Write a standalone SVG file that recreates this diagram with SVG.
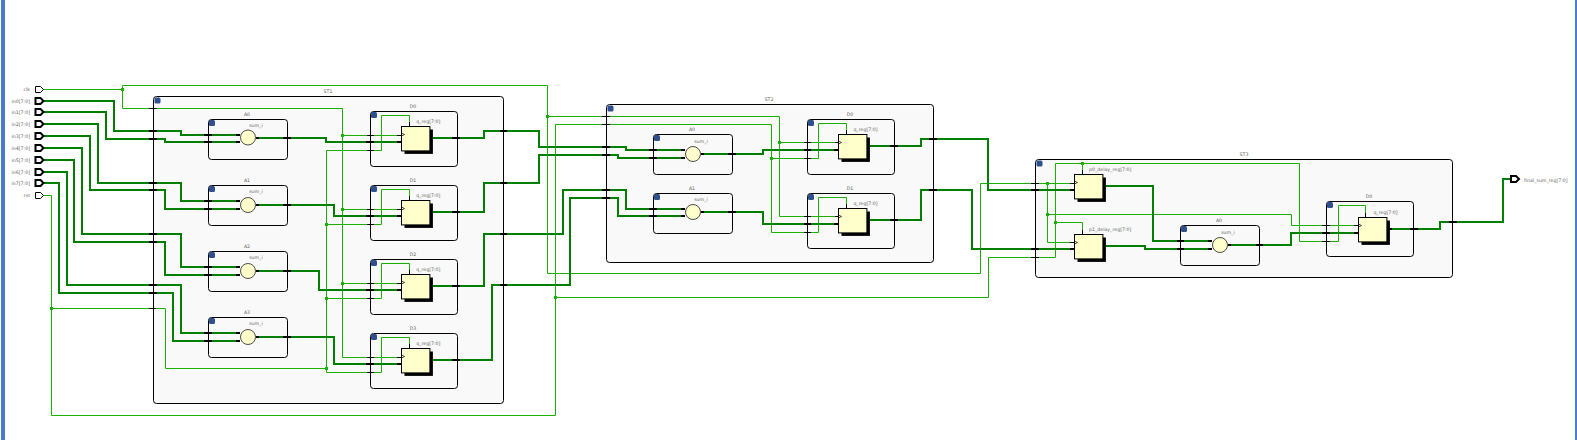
<svg xmlns="http://www.w3.org/2000/svg" width="1577" height="440" viewBox="0 0 1577 440">
<defs>
<style>
.bg{fill:#fff}
.bar{fill:#4a7bd0}
.c{fill:#f9f9f9;stroke:#000;stroke-width:1}
.cell{fill:none;stroke:#000;stroke-width:1}
.ff{fill:#ffffcc;stroke:#000;stroke-width:1}
.sh{fill:#000}
.add{fill:#ffffcc;stroke:#222;stroke-width:.8}
.blue{fill:#2f4f8f}
text{font-family:"DejaVu Sans",sans-serif;font-size:4.7px;fill:#666}
.m{text-anchor:middle}
.e{text-anchor:end}
.t{fill:none;stroke:#19b000;stroke-width:1}
.w{fill:none;stroke:#008000;stroke-width:2}
.k1{fill:none;stroke:#000;stroke-width:1}
.k2{fill:none;stroke:#000;stroke-width:2}
.j{fill:#19b000}
.port{fill:#fff;stroke:#000;stroke-width:1}
.port2{fill:#fff;stroke:#000;stroke-width:2}
</style>
<symbol id="ffs" overflow="visible"><rect class="sh" x="3" y="3" width="28.4" height="24.4"/><rect class="ff" x="0" y="0" width="28.4" height="24.4"/><path d="M0 6.500l3 1.500-3 1.500" fill="none" stroke="#000" stroke-width=".7"/></symbol>
</defs>
<rect class="bg" width="1577" height="440"/>
<rect class="bar" x="1" y="0" width="4" height="440"/>
<rect class="bar" x="1575" y="0" width="2" height="440"/>
<g id="ST1"><rect class="c" x="153.500" y="96.500" width="350" height="307" rx="3"/><rect class="blue" x="154.500" y="97.500" width="6" height="6" rx="1.500"/><text class="m" x="328" y="93">ST1</text></g>
<g id="ST2"><rect class="c" x="606.500" y="104.500" width="327" height="158" rx="3"/><rect class="blue" x="607.500" y="105.500" width="6" height="6" rx="1.500"/><text class="m" x="769" y="101">ST2</text></g>
<g id="ST3"><rect class="c" x="1035.500" y="159.500" width="417" height="118" rx="3"/><rect class="blue" x="1036.500" y="160.500" width="6" height="6" rx="1.500"/><text class="m" x="1244" y="156">ST3</text></g>
<g id="ST1_A0"><rect class="cell" x="208.500" y="119.500" width="79" height="40" rx="3"/><rect class="blue" x="209" y="120" width="6" height="6" rx="1.500"/><text class="m" x="247" y="116">A0</text><text class="m" x="256" y="127">sum_i</text></g>
<g id="ST1_A1"><rect class="cell" x="208.500" y="185.500" width="79" height="40" rx="3"/><rect class="blue" x="209" y="186" width="6" height="6" rx="1.500"/><text class="m" x="247" y="182">A1</text><text class="m" x="256" y="193">sum_i</text></g>
<g id="ST1_A2"><rect class="cell" x="208.500" y="251.500" width="79" height="40" rx="3"/><rect class="blue" x="209" y="252" width="6" height="6" rx="1.500"/><text class="m" x="247" y="248">A2</text><text class="m" x="256" y="259">sum_i</text></g>
<g id="ST1_A3"><rect class="cell" x="208.500" y="317.500" width="79" height="40" rx="3"/><rect class="blue" x="209" y="318" width="6" height="6" rx="1.500"/><text class="m" x="247" y="314">A3</text><text class="m" x="256" y="325">sum_i</text></g>
<g id="ST1_D0"><rect class="cell" x="370.500" y="111.500" width="87" height="55" rx="3"/><rect class="blue" x="371" y="112" width="6" height="6" rx="1.500"/><text class="m" x="413" y="108">D0</text><text class="m" x="428.300" y="123">q_reg[7:0]</text></g>
<g id="ST1_D1"><rect class="cell" x="370.500" y="185.500" width="87" height="55" rx="3"/><rect class="blue" x="371" y="186" width="6" height="6" rx="1.500"/><text class="m" x="413" y="182">D1</text><text class="m" x="428.300" y="197">q_reg[7:0]</text></g>
<g id="ST1_D2"><rect class="cell" x="370.500" y="259.500" width="87" height="55" rx="3"/><rect class="blue" x="371" y="260" width="6" height="6" rx="1.500"/><text class="m" x="413" y="256">D2</text><text class="m" x="428.300" y="271">q_reg[7:0]</text></g>
<g id="ST1_D3"><rect class="cell" x="370.500" y="333.500" width="87" height="55" rx="3"/><rect class="blue" x="371" y="334" width="6" height="6" rx="1.500"/><text class="m" x="413" y="330">D3</text><text class="m" x="428.300" y="345">q_reg[7:0]</text></g>
<g id="ST2_A0"><rect class="cell" x="653.500" y="134.500" width="79" height="40" rx="3"/><rect class="blue" x="654" y="135" width="6" height="6" rx="1.500"/><text class="m" x="692" y="131">A0</text><text class="m" x="701" y="143">sum_i</text></g>
<g id="ST2_A1"><rect class="cell" x="653.500" y="193.500" width="79" height="40" rx="3"/><rect class="blue" x="654" y="194" width="6" height="6" rx="1.500"/><text class="m" x="692" y="190">A1</text><text class="m" x="701" y="201">sum_i</text></g>
<g id="ST2_D0"><rect class="cell" x="807.500" y="119.500" width="87" height="55" rx="3"/><rect class="blue" x="808" y="120" width="6" height="6" rx="1.500"/><text class="m" x="850" y="116">D0</text><text class="m" x="865.500" y="131">q_reg[7:0]</text></g>
<g id="ST2_D1"><rect class="cell" x="807.500" y="193.500" width="87" height="55" rx="3"/><rect class="blue" x="808" y="194" width="6" height="6" rx="1.500"/><text class="m" x="850" y="190">D1</text><text class="m" x="865.500" y="205">q_reg[7:0]</text></g>
<g id="ST3_A0"><rect class="cell" x="1180.500" y="225.500" width="79" height="40" rx="3"/><rect class="blue" x="1181" y="226" width="6" height="6" rx="1.500"/><text class="m" x="1219" y="222">A0</text><text class="m" x="1228" y="234">sum_i</text></g>
<g id="ST3_D0"><rect class="cell" x="1326.500" y="201.500" width="87" height="55" rx="3"/><rect class="blue" x="1327" y="202" width="6" height="6" rx="1.500"/><text class="m" x="1369" y="198">D0</text><text class="m" x="1385.500" y="214">q_reg[7:0]</text></g>
<g id="connectors">
<path class="t" d="M43 89.500H122.500V85.500H547.500V273.500H980.500V183.500H1074"/>
<path class="t" d="M122.500 89.500V108.500H342.500V357.500H402M342.500 135.500H402M342.500 209.500H402M342.500 283.500H402"/>
<path class="t" d="M547.500 116.500H779.500V216.500H839M779.500 142.500H839"/>
<path class="t" d="M43 195.500H51.500V415.500H555.500V124.500H771.500V232.500H818.500V197.500H846.500V208M771.500 158.500H818.500V123.500H846.500V134"/>
<path class="t" d="M555.500 297.500H988.500V257.500H1055.500V163.500H1299.500V241.500H1338.500V205.500H1365.500V217M1082.500 163.500V174M1055.500 222.500H1082.500V234"/>
<path class="t" d="M1047.500 183.500V242.500H1074M1047.500 214.500H1291.500V225.500H1358"/>
<path class="t" d="M51.500 308.500H165.500V368.500H326.500V150.500H381.500V115.500H409.500V126M326.500 224.500H381.500V189.500H409.500V200M326.500 298.500H381.500V263.500H409.500V274M326.500 368.500V372.500H381.500V337.500H409.500V348"/>
<path class="w" d="M43 101H114V131H181V135H240"/>
<path class="w" d="M43 112H106V139H165V142H240"/>
<path class="w" d="M43 124H98V183H181V201H240"/>
<path class="w" d="M43 136H90V190H165V209H240"/>
<path class="w" d="M43 148H82V234H181V267H240"/>
<path class="w" d="M43 160H74V242H165V275H240"/>
<path class="w" d="M43 172H67V285H181V333H240"/>
<path class="w" d="M43 183H59V293H173V341H240"/>
<path class="w" d="M256 138H326V142H402"/>
<path class="w" d="M256 205H334V216H402"/>
<path class="w" d="M256 271H319V290H402"/>
<path class="w" d="M256 337H334V364H402"/>
<path class="w" d="M432 138H484V131H539V147H626V150H685"/>
<path class="w" d="M432 212H484V183H539V155H618V158H685"/>
<path class="w" d="M432 286H484V234H563V190H626V209H685"/>
<path class="w" d="M432 360H492V285H570V198H618V216H685"/>
<path class="w" d="M701 154H763V150H838"/>
<path class="w" d="M701 212H763V224H838"/>
<path class="w" d="M869 146H921V139H988V190H1074"/>
<path class="w" d="M869 220H921V190H972V249H1074"/>
<path class="w" d="M1105 186H1153V241H1212"/>
<path class="w" d="M1105 246H1145V249H1212"/>
<path class="w" d="M1228 245H1291V233H1358"/>
<path class="w" d="M1389 229H1440V222H1503V179H1511"/>
<path class="k2" d="M149 131h8M149 139h8M149 183h8M149 190h8M149 234h8M149 242h8M149 285h8M149 293h8M204 135h8M204 142h8M204 201h8M204 209h8M204 267h8M204 275h8M204 333h8M204 341h8M236 135h4M236 142h4M236 201h4M236 209h4M236 267h4M236 275h4M236 333h4M236 341h4M283 138h8M283 205h8M283 271h8M283 337h8M256 138h3M256 205h3M256 271h3M256 337h3M366 142h8M366 216h8M366 290h8M366 364h8M397 142h5M397 216h5M397 290h5M397 364h5M452 138h8M452 212h8M452 286h8M452 360h8M500 131h7M500 183h7M500 234h7M500 285h7"/>
<path class="k2" d="M602 147h8M602 155h8M602 190h8M602 198h8M649 150h8M649 158h8M649 209h8M649 216h8M681 150h4M681 158h4M681 209h4M681 216h4M728 154h8M728 212h8M701 154h3M701 212h3M804 150h7M804 224h7M834 150h5M834 224h5M890 146h8M890 220h8M929 139h8M929 190h8M1031 190h8M1031 249h8M1070 190h5M1070 249h5M1177 241h7M1177 249h7M1208 241h4M1208 249h4M1256 245h7M1228 245h3M1322 233h8M1354 233h5M1410 229h8M1389 229h3M1449 222h8"/>
<path class="k1" d="M149 108.500h8M149 308.500h7M367 135.500h7M367 150.500h7M367 209.500h7M367 224.500h7M367 283.500h7M367 298.500h7M367 357.500h7M367 372.500h7M397 135.500h5M397 209.500h5M397 283.500h5M397 357.500h5M409.500 122v4M409.500 196v4M409.500 270v4M409.500 344v4M602 116.500h8M602 124.500h8M804 142.500h7M804 158.500h7M804 216.500h7M804 232.500h7M835 142.500h4M835 216.500h4M846.500 130v4M846.500 204v4M1031 183.500h8M1031 257.500h8M1070 183.500h4M1070 242.500h4M1082.500 170v4M1082.500 230v4M1322 225.500h8M1322 241.500h8M1354 225.500h4M1365.500 213v4"/>
<g class="j"><rect x="121" y="88" width="3" height="3"/><rect x="546" y="115" width="3" height="3"/><rect x="50" y="307" width="3" height="3"/><rect x="341" y="134" width="3" height="3"/><rect x="341" y="208" width="3" height="3"/><rect x="341" y="282" width="3" height="3"/><rect x="325" y="223" width="3" height="3"/><rect x="325" y="297" width="3" height="3"/><rect x="325" y="367" width="3" height="3"/><rect x="554" y="296" width="3" height="3"/><rect x="778" y="141" width="3" height="3"/><rect x="770" y="157" width="3" height="3"/><rect x="1046" y="182" width="3" height="3"/><rect x="1046" y="213" width="3" height="3"/><rect x="1054" y="221" width="3" height="3"/><rect x="1081" y="162" width="3" height="3"/></g>
</g>
<g id="adders"><circle class="add" cx="248" cy="137.500" r="7.500"/><circle class="add" cx="248" cy="205" r="7.500"/><circle class="add" cx="248" cy="271" r="7.500"/><circle class="add" cx="248" cy="337" r="7.500"/><circle class="add" cx="693" cy="154" r="7.500"/><circle class="add" cx="693" cy="212" r="7.500"/><circle class="add" cx="1220" cy="245" r="7.500"/></g>
<g id="registers">
<use href="#ffs" x="401.500" y="126.500"/><use href="#ffs" x="401.500" y="200.500"/><use href="#ffs" x="401.500" y="274.500"/><use href="#ffs" x="401.500" y="348.500"/>
<use href="#ffs" x="838.500" y="134.500"/><use href="#ffs" x="838.500" y="208.500"/><use href="#ffs" x="1074.500" y="174.500"/><use href="#ffs" x="1074.500" y="234.500"/><use href="#ffs" x="1358.500" y="217.500"/>
<text x="1089" y="171">p0_delay_reg[7:0]</text><text x="1089" y="231">p1_delay_reg[7:0]</text>
</g>
<g id="ports">
<g id="clk"><path class="port" d="M35.500 86.500h5l3 3-3 3h-5z"/><text class="e" x="30" y="91">clk</text></g>
<g id="in0"><path class="port2" d="M35.500 98h5l3 3-3 3h-5z"/><text class="e" x="30" y="103">in0[7:0]</text></g>
<g id="in1"><path class="port2" d="M35.500 109h5l3 3-3 3h-5z"/><text class="e" x="30" y="114">in1[7:0]</text></g>
<g id="in2"><path class="port2" d="M35.500 121h5l3 3-3 3h-5z"/><text class="e" x="30" y="126">in2[7:0]</text></g>
<g id="in3"><path class="port2" d="M35.500 133h5l3 3-3 3h-5z"/><text class="e" x="30" y="138">in3[7:0]</text></g>
<g id="in4"><path class="port2" d="M35.500 145h5l3 3-3 3h-5z"/><text class="e" x="30" y="150">in4[7:0]</text></g>
<g id="in5"><path class="port2" d="M35.500 157h5l3 3-3 3h-5z"/><text class="e" x="30" y="162">in5[7:0]</text></g>
<g id="in6"><path class="port2" d="M35.500 169h5l3 3-3 3h-5z"/><text class="e" x="30" y="174">in6[7:0]</text></g>
<g id="in7"><path class="port2" d="M35.500 180h5l3 3-3 3h-5z"/><text class="e" x="30" y="185">in7[7:0]</text></g>
<g id="rst"><path class="port" d="M35.500 192.500h5l3 3-3 3h-5z"/><text class="e" x="30" y="197">rst</text></g>
<g id="final_sum_reg"><path class="port2" d="M1511 176h5l3 3-3 3h-5z"/><text x="1524" y="182">final_sum_reg[7:0]</text></g>
</g>
</svg>
